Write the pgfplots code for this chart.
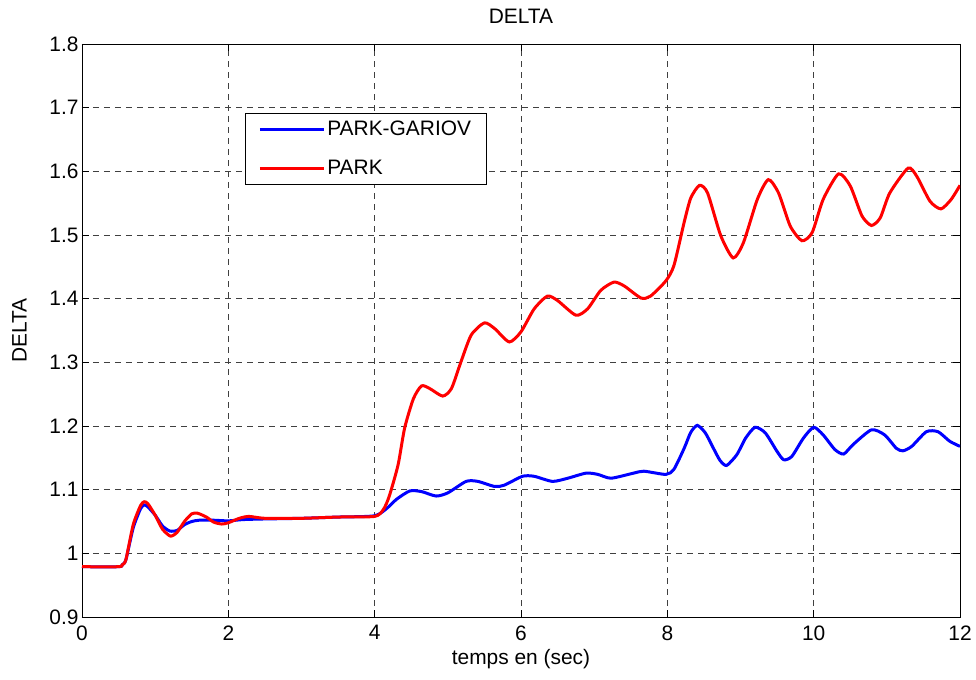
\documentclass[border=0pt]{standalone}
\usepackage{pgfplots}
\pgfplotsset{compat=1.18}
\usepackage{fontspec}
\setmainfont{Liberation Sans}
\begin{document}
\begin{tikzpicture}
\begin{axis}[
  scale only axis,
  width=878bp, height=573bp,
  xmin=0, xmax=12, ymin=0.9, ymax=1.8,
  xtick={0,2,...,12},
  ytick={0.9,1.0,...,1.8},
  tick align=inside,
  tick pos=both,
  major tick length=7bp,
  grid=major,
  major grid style={dashed, black!75, line width=0.7bp, dash pattern=on 6bp off 5bp},
  axis line style={black, line width=0.8bp},
  every tick/.style={black, line width=0.7bp},
  /pgf/number format/assume math mode=true,
  yticklabel style={/pgf/number format/fixed},
  xticklabel style={yshift=-5bp},
  ticklabel style={font=\fontsize{21}{25}\selectfont},
  title={DELTA},
  title style={font=\fontsize{21}{25}\selectfont, yshift=11bp},
  xlabel={temps en (sec)},
  ylabel={DELTA},
  label style={font=\fontsize{21}{25}\selectfont},
  xlabel style={yshift=-2bp},
  ylabel style={yshift=16bp},
  legend style={at={(0.1856,0.880)}, anchor=north west, draw=black, line width=0.7bp,
    font=\fontsize{21}{25}\selectfont, inner xsep=13bp, inner ysep=6bp, row sep=19bp},
  legend cell align=left,
  legend image code/.code={\draw[#1, line width=3bp, sharp plot] (0bp,0bp) -- (64bp,0bp);},
]
\addplot[blue, line width=3bp, smooth, tension=0.4] coordinates {
(0,0.979)(0.5,0.979)(0.55,0.982)(0.6,0.99)(0.7,1.04)(0.8,1.07)(0.85,1.076)(0.9,1.073)(1.0,1.06)(1.1,1.043)(1.2,1.035)(1.3,1.036)(1.4,1.045)(1.5,1.05)(1.6,1.052)(1.8,1.052)(2.0,1.051)(2.2,1.053)(2.5,1.054)(3.0,1.055)(3.5,1.057)(4.0,1.059)(4.18,1.072)(4.3,1.085)(4.48,1.098)(4.64,1.097)(4.84,1.090)(5.0,1.095)(5.25,1.113)(5.41,1.113)(5.64,1.105)(5.77,1.107)(6.02,1.121)(6.18,1.121)(6.43,1.113)(6.64,1.118)(6.89,1.126)(7.05,1.124)(7.23,1.118)(7.54,1.126)(7.68,1.129)(7.98,1.124)(8.09,1.132)(8.23,1.165)(8.32,1.19)(8.41,1.201)(8.52,1.189)(8.63,1.165)(8.72,1.146)(8.81,1.138)(8.95,1.155)(9.07,1.181)(9.20,1.198)(9.34,1.189)(9.50,1.160)(9.59,1.147)(9.70,1.152)(9.86,1.181)(10.0,1.198)(10.13,1.186)(10.29,1.163)(10.41,1.156)(10.54,1.171)(10.79,1.194)(10.97,1.186)(11.13,1.165)(11.22,1.161)(11.34,1.168)(11.54,1.191)(11.70,1.191)(11.86,1.176)(12.0,1.168)
};
\addlegendentry{PARK-GARIOV}
\addplot[red, line width=3bp, smooth, tension=0.4] coordinates {
(0,0.979)(0.5,0.979)(0.55,0.982)(0.6,0.99)(0.7,1.045)(0.8,1.075)(0.85,1.081)(0.9,1.078)(1.0,1.06)(1.1,1.038)(1.21,1.027)(1.3,1.033)(1.4,1.05)(1.5,1.062)(1.58,1.063)(1.7,1.057)(1.8,1.049)(1.91,1.046)(2.0,1.048)(2.15,1.055)(2.28,1.058)(2.5,1.055)(3.0,1.055)(3.5,1.057)(4.0,1.058)(4.12,1.069)(4.2,1.09)(4.32,1.139)(4.41,1.197)(4.53,1.243)(4.64,1.263)(4.75,1.259)(4.93,1.247)(5.05,1.259)(5.18,1.301)(5.32,1.343)(5.50,1.362)(5.64,1.353)(5.84,1.332)(6.0,1.348)(6.18,1.384)(6.36,1.404)(6.50,1.397)(6.75,1.374)(6.91,1.384)(7.09,1.413)(7.27,1.426)(7.41,1.420)(7.64,1.401)(7.77,1.404)(7.98,1.428)(8.09,1.452)(8.23,1.520)(8.32,1.558)(8.44,1.578)(8.55,1.566)(8.73,1.499)(8.90,1.464)(9.04,1.488)(9.23,1.556)(9.38,1.587)(9.52,1.566)(9.68,1.514)(9.84,1.491)(9.98,1.504)(10.13,1.556)(10.34,1.596)(10.50,1.577)(10.66,1.530)(10.79,1.515)(10.91,1.527)(11.04,1.566)(11.29,1.605)(11.41,1.592)(11.59,1.553)(11.74,1.541)(11.88,1.556)(12.0,1.578)
};
\addlegendentry{PARK}
\end{axis}
\path ([xshift=-82bp,yshift=-63bp]current axis.south west) rectangle ([xshift=16bp,yshift=44bp]current axis.north east);
\end{tikzpicture}
\end{document}
